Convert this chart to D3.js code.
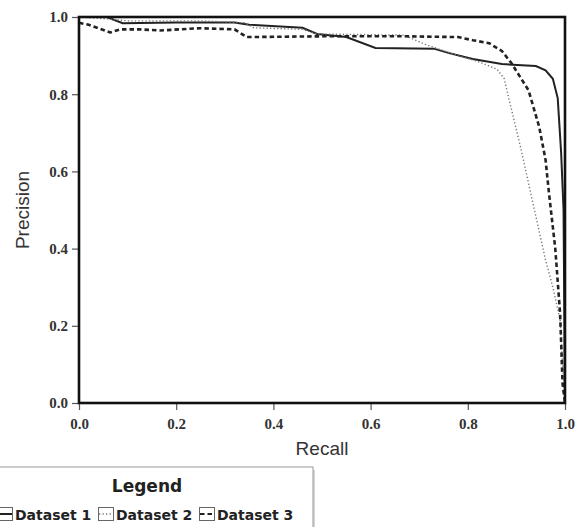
<!DOCTYPE html>
<html lang="en">
<head>
  <meta charset="UTF-8">
  <title>Precision / Recall</title>
  <script src="https://d3js.org/d3.v7.min.js"></script>
  <style>
    body { margin: 0; background: white; }
    svg text.tick-label { font-family: "Liberation Serif", serif; font-weight: bold; font-size: 15px; fill: #333; }
    .axis-title { font-family: "Liberation Sans", Arial, sans-serif; font-size: 19px; fill: #333; }
    .legend-title { font-family: "DejaVu Sans", sans-serif; font-weight: bold; font-size: 17px; fill: #222; }
    .legend-item { font-family: "DejaVu Sans", sans-serif; font-weight: bold; font-size: 14px; fill: #222; }
  </style>
</head>
<body>
  <svg id="chart" width="577" height="527"></svg>

  <script>
    const ticks = [0, 0.2, 0.4, 0.6, 0.8, 1.0];
    const seriesNames = ["Dataset 1", "Dataset 2", "Dataset 3"];

    const recall1 = [0, 0.057, 0.09, 0.2, 0.32, 0.35, 0.46, 0.49, 0.55, 0.61, 0.73, 0.76, 0.81, 0.87, 0.94, 0.96, 0.975, 0.985, 0.992, 0.997, 1.0];
    const precision1 = [1.0, 1.0, 0.984, 0.986, 0.986, 0.98, 0.972, 0.956, 0.948, 0.92, 0.918, 0.907, 0.891, 0.878, 0.873, 0.862, 0.84, 0.79, 0.65, 0.5, 0.0];

    const recall2 = [0, 0.06, 0.1, 0.25, 0.34, 0.36, 0.46, 0.49, 0.67, 0.71, 0.78, 0.82, 0.86, 0.875, 0.885, 0.89, 0.91, 0.93, 0.946, 0.96, 0.975, 0.99, 0.995, 1.0];
    const precision2 = [1.0, 0.995, 0.99, 0.99, 0.985, 0.972, 0.968, 0.956, 0.953, 0.93, 0.9, 0.885, 0.865, 0.84, 0.785, 0.76, 0.655, 0.54, 0.45, 0.37, 0.3, 0.215, 0.1, 0.0];

    const recall3 = [0, 0.02, 0.064, 0.085, 0.125, 0.166, 0.25, 0.32, 0.345, 0.5, 0.67, 0.78, 0.81, 0.844, 0.87, 0.89, 0.925, 0.947, 0.96, 0.967, 0.98, 0.99, 0.995, 1.0];
    const precision3 = [0.985, 0.98, 0.96, 0.968, 0.968, 0.965, 0.971, 0.968, 0.948, 0.95, 0.95, 0.948, 0.94, 0.932, 0.912, 0.88, 0.81, 0.715, 0.63, 0.544, 0.40, 0.23, 0.05, 0.0];

    const styles = [
      { stroke: "#222", width: 2, dash: null },
      { stroke: "#777", width: 1.4, dash: "1.3,2.2" },
      { stroke: "#222", width: 2.6, dash: "4.5,3" }
    ];

    const series = [
      recall1.map((r, i) => [r, precision1[i]]),
      recall2.map((r, i) => [r, precision2[i]]),
      recall3.map((r, i) => [r, precision3[i]])
    ];

    const svg = d3.select("#chart");
    const x = d3.scaleLinear().domain([0, 1]).range([79, 565]);
    const y = d3.scaleLinear().domain([0, 1]).range([403, 17]);

    // axes
    const yAxis = svg.append("g").attr("transform", "translate(79,0)")
      .call(d3.axisLeft(y).tickValues(ticks).tickFormat(d3.format(".1f")).tickSize(7).tickPadding(4));
    const xAxis = svg.append("g").attr("transform", "translate(0,403)")
      .call(d3.axisBottom(x).tickValues(ticks).tickFormat(d3.format(".1f")).tickSize(7).tickPadding(8));
    [xAxis, yAxis].forEach(a => {
      a.select(".domain").remove();
      a.selectAll(".tick line").attr("stroke", "#555").attr("stroke-width", 1.2);
      a.selectAll(".tick text").attr("class", "tick-label");
    });

    // curves
    const line = d3.line().x(d => x(d[0])).y(d => y(d[1]));
    series.forEach((s, i) => {
      svg.append("path")
        .datum(s)
        .attr("d", line)
        .attr("fill", "none")
        .attr("stroke", styles[i].stroke)
        .attr("stroke-width", styles[i].width)
        .attr("stroke-dasharray", styles[i].dash);
    });

    // frame
    svg.append("rect")
      .attr("x", x(0)).attr("y", y(1))
      .attr("width", x(1) - x(0)).attr("height", y(0) - y(1))
      .attr("fill", "none").attr("stroke", "#111").attr("stroke-width", 2.6);

    svg.append("text").attr("class", "axis-title")
      .attr("x", 322).attr("y", 455).attr("text-anchor", "middle").text("Recall");
    svg.append("text").attr("class", "axis-title")
      .attr("transform", "translate(29,210) rotate(-90)").attr("text-anchor", "middle").text("Precision");

    // legend
    const lg = svg.append("g");
    lg.append("rect").attr("x", -4).attr("y", 470).attr("width", 319).attr("height", 70)
      .attr("fill", "#bbb").attr("opacity", 0.6);
    lg.append("rect").attr("x", -6).attr("y", 467).attr("width", 319).attr("height", 70)
      .attr("fill", "white").attr("stroke", "#999").attr("stroke-width", 1);
    lg.append("text").attr("class", "legend-title")
      .attr("x", 147).attr("y", 492).attr("text-anchor", "middle").text("Legend");

    const itemX = [-3, 98, 199];
    seriesNames.forEach((name, i) => {
      const g = lg.append("g").attr("transform", `translate(${itemX[i]},507)`);
      g.append("rect").attr("x", 0.5).attr("y", 0.5).attr("width", 15).attr("height", 13)
        .attr("fill", "white").attr("stroke", "#666");
      g.append("line").attr("x1", 1).attr("x2", 15).attr("y1", 7).attr("y2", 7)
        .attr("stroke", styles[i].stroke).attr("stroke-width", Math.min(styles[i].width, 2))
        .attr("stroke-dasharray", styles[i].dash);
      g.append("text").attr("class", "legend-item").attr("x", 18).attr("y", 12.5).text(name);
    });
  </script>
</body>
</html>
